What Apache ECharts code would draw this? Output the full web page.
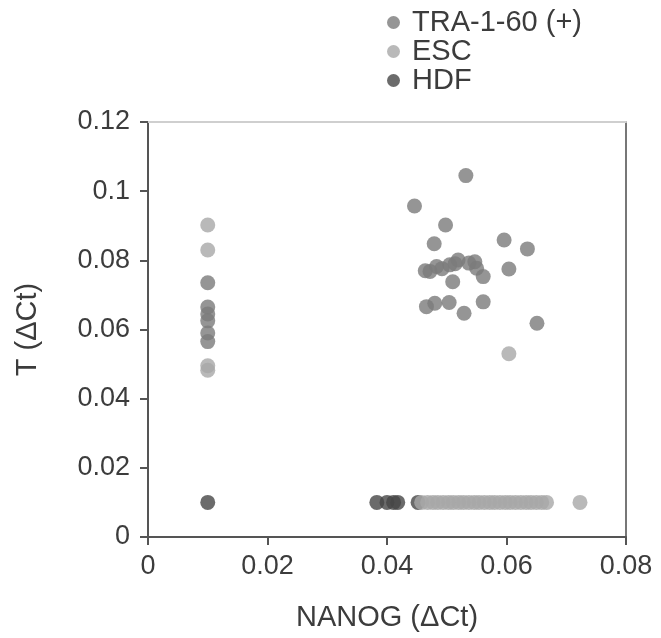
<!DOCTYPE html>
<html>
<head>
<meta charset="utf-8">
<script src="https://cdn.jsdelivr.net/npm/echarts@6/dist/echarts.min.js"></script>
<style>html,body{margin:0;padding:0;background:#fff;}#c{width:661px;height:638px;}</style>
</head>
<body>
<div id="c"></div>
<script>
var seriesNames = ['TRA-1-60 (+)', 'ESC', 'HDF'];
var xTicks = [0, 0.02, 0.04, 0.06, 0.08];
var yTicks = [0, 0.02, 0.04, 0.06, 0.08, 0.1, 0.12];

var traX = [0.0532, 0.0446, 0.0498, 0.0479, 0.0596, 0.0635, 0.0464, 0.0483, 0.0505, 0.0519, 0.0547, 0.0550, 0.0561, 0.0510, 0.0604, 0.0466, 0.0480, 0.0504, 0.0529, 0.0561, 0.0651, 0.0472, 0.0492, 0.0514, 0.0537,
            0.0100, 0.0100, 0.0100, 0.0100, 0.0100, 0.0100];
var traY = [0.1045, 0.0957, 0.0902, 0.0848, 0.0859, 0.0833, 0.0770, 0.0782, 0.0787, 0.0801, 0.0796, 0.0777, 0.0753, 0.0738, 0.0775, 0.0666, 0.0676, 0.0678, 0.0647, 0.0680, 0.0618, 0.0768, 0.0776, 0.0790, 0.0792,
            0.0735, 0.0665, 0.0645, 0.0625, 0.0590, 0.0565];

var escX = [0.0100, 0.0100, 0.0100, 0.0100, 0.0604,
            0.0458, 0.0468, 0.0477, 0.0485, 0.0494, 0.0503, 0.0511, 0.0520, 0.0528, 0.0537, 0.0546, 0.0554, 0.0563,
            0.0572, 0.0580, 0.0589, 0.0598, 0.0606, 0.0615, 0.0624, 0.0633, 0.0641, 0.0650, 0.0659, 0.0667, 0.0723];
var escY = [0.0902, 0.0830, 0.0495, 0.0482, 0.0530,
            0.0100, 0.0100, 0.0100, 0.0100, 0.0100, 0.0100, 0.0100, 0.0100, 0.0100, 0.0100, 0.0100, 0.0100, 0.0100,
            0.0100, 0.0100, 0.0100, 0.0100, 0.0100, 0.0100, 0.0100, 0.0100, 0.0100, 0.0100, 0.0100, 0.0100, 0.0100];

var hdfX = [0.0100, 0.0383, 0.0400, 0.0411, 0.0418, 0.0452];
var hdfY = [0.0100, 0.0100, 0.0100, 0.0100, 0.0100, 0.0100];

function pairs(xs, ys) { return xs.map(function (x, i) { return [x, ys[i]]; }); }
function fmt(v) { return String(Math.round(v * 100) / 100); }

var colors = ['#7a7a7a', '#a8a8a8', '#464646'];
var font = 'Liberation Sans, Arial, sans-serif';
var labelColor = '#3c3c3c';

var chart = echarts.init(document.getElementById('c'), null, {renderer: 'canvas'});
chart.setOption({
  animation: false,
  backgroundColor: '#fff',
  legend: {
    orient: 'vertical',
    left: 382,
    top: 3,
    itemGap: 0,
    itemWidth: 13,
    itemHeight: 13,
    icon: 'circle',
    textStyle: {fontFamily: font, fontSize: 29, lineHeight: 25, color: labelColor, padding: [0, 0, 0, 7]},
    data: seriesNames
  },
  grid: {left: 148, right: 35, top: 122, bottom: 101, show: false},
  xAxis: [{
    type: 'value', min: 0, max: 0.08, interval: 0.02,
    name: 'NANOG (\u0394Ct)', nameLocation: 'middle', nameGap: 66,
    nameTextStyle: {fontFamily: font, fontSize: 29, color: labelColor},
    axisLine: {onZero: false, lineStyle: {color: '#555', width: 2}},
    axisTick: {show: true, length: 8, lineStyle: {color: '#555', width: 2}},
    axisLabel: {fontFamily: font, fontSize: 27, color: labelColor, margin: 16, formatter: fmt},
    splitLine: {show: false}
  }, {
    type: 'value', min: 0, max: 0.08, interval: 0.02, position: 'top',
    axisLine: {onZero: false, lineStyle: {color: '#cfcfcf', width: 2}},
    axisTick: {show: false}, axisLabel: {show: false}, splitLine: {show: false}
  }],
  yAxis: [{
    type: 'value', min: 0, max: 0.12, interval: 0.02,
    name: 'T (\u0394Ct)', nameLocation: 'middle', nameGap: 106,
    nameTextStyle: {fontFamily: font, fontSize: 29, color: labelColor},
    axisLine: {onZero: false, lineStyle: {color: '#555', width: 2}},
    axisTick: {show: true, length: 8, lineStyle: {color: '#555', width: 2}},
    axisLabel: {fontFamily: font, fontSize: 27, color: labelColor, margin: 18, formatter: fmt},
    splitLine: {show: false}
  }, {
    type: 'value', min: 0, max: 0.12, interval: 0.02, position: 'right',
    axisLine: {onZero: false, lineStyle: {color: '#777', width: 2}},
    axisTick: {show: false}, axisLabel: {show: false}, splitLine: {show: false}
  }],
  series: [
    {name: seriesNames[0], type: 'scatter', symbolSize: 15, z: 4, itemStyle: {color: colors[0]}, data: pairs(traX, traY)},
    {name: seriesNames[1], type: 'scatter', symbolSize: 15, z: 3, itemStyle: {color: colors[1]}, data: pairs(escX, escY)},
    {name: seriesNames[2], type: 'scatter', symbolSize: 15, z: 2, itemStyle: {color: colors[2]}, data: pairs(hdfX, hdfY)}
  ]
});
</script>
</body>
</html>
